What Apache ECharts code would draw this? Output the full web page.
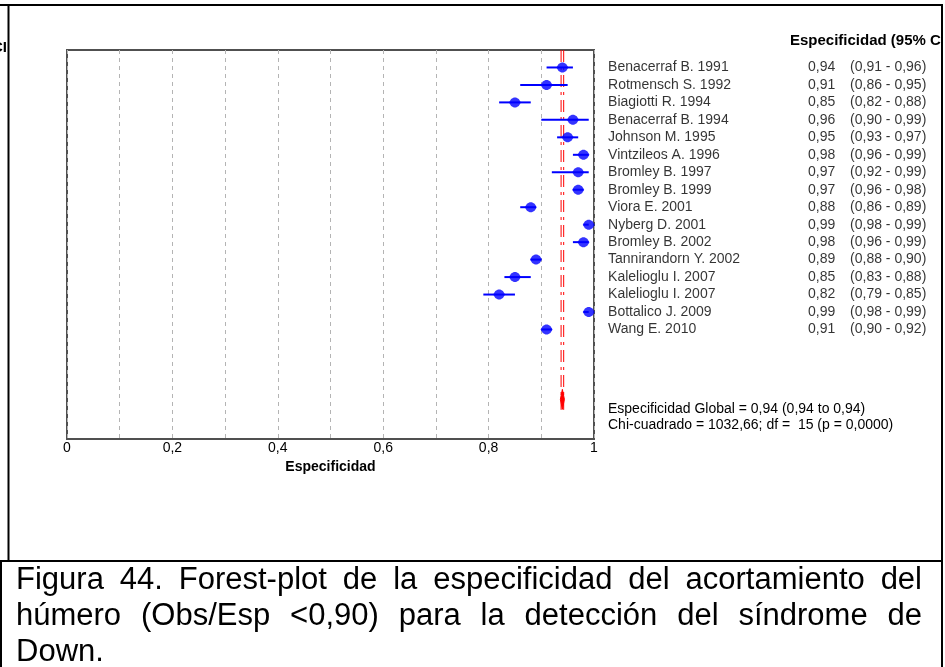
<!DOCTYPE html>
<html>
<head>
<meta charset="utf-8">
<title>Forest-plot especificidad</title>
<script src="https://cdn.jsdelivr.net/npm/echarts@6/dist/echarts.min.js"></script>
<style>
  html, body { margin: 0; padding: 0; background: #ffffff; }
  #chart { width: 945px; height: 667px; }
</style>
</head>
<body>
<div id="chart"></div>
<script>
// Studies and their specificity with 95% confidence interval
const studies = [
  'Benacerraf B. 1991', 'Rotmensch S. 1992', 'Biagiotti R. 1994', 'Benacerraf B. 1994',
  'Johnson M. 1995', 'Vintzileos A. 1996', 'Bromley B. 1997', 'Bromley B. 1999',
  'Viora E. 2001', 'Nyberg D. 2001', 'Bromley B. 2002', 'Tannirandorn Y. 2002',
  'Kalelioglu I. 2007', 'Kalelioglu I. 2007', 'Bottalico J. 2009', 'Wang E. 2010'
];
const specificity = [0.94, 0.91, 0.85, 0.96, 0.95, 0.98, 0.97, 0.97, 0.88, 0.99, 0.98, 0.89, 0.85, 0.82, 0.99, 0.91];
const ciLower     = [0.91, 0.86, 0.82, 0.90, 0.93, 0.96, 0.92, 0.96, 0.86, 0.98, 0.96, 0.88, 0.83, 0.79, 0.98, 0.90];
const ciUpper     = [0.96, 0.95, 0.88, 0.99, 0.97, 0.99, 0.99, 0.98, 0.89, 0.99, 0.99, 0.90, 0.88, 0.85, 0.99, 0.92];

// Pooled estimate
const pooled = [0.94, 0.94, 0.94]; // estimate, lower, upper

// Axis tick labels
const xTicks = [0, 0.2, 0.4, 0.6, 0.8, 1];

// Texts
const headerText = 'Especificidad (95% CI)';
const globalText = 'Especificidad Global = 0,94 (0,94 to 0,94)';
const chiText = 'Chi-cuadrado = 1032,66; df =  15 (p = 0,0000)';
const captionLines = [
  'Figura 44. Forest-plot de la especificidad del acortamiento del',
  'húmero (Obs/Esp <0,90) para la detección del síndrome de',
  'Down.'
];

// Layout
const FONT = '"Liberation Sans", Arial, sans-serif';
const ROW_MAX = 22.27;      // y extent in row units (row 1 at top)
const POOLED_ROW = 20;      // row of pooled diamond
const POOLED_LINE_END = 20.6;
const SEP_Y = 561;          // line between figure and caption
const CAP_LEFT = 16, CAP_RIGHT = 922;
const CAP_Y = [580, 616, 652];
const CAP_FONT_SIZE = 31;

const fmt = v => (v === 0 ? '0' : v === 1 ? '1' : v.toFixed(2).replace('.', ','));
const fmtTick = v => (Math.abs(v) < 1e-9 ? '0' : Math.abs(v - 1) < 1e-9 ? '1' : v.toFixed(1).replace('.', ','));

const chart = echarts.init(document.getElementById('chart'), null, { renderer: 'canvas' });

// Justified caption words
function captionGraphics() {
  const ctx = document.createElement('canvas').getContext('2d');
  const font = CAP_FONT_SIZE + 'px ' + FONT;
  ctx.font = font;
  const out = [];
  captionLines.forEach((line, li) => {
    const words = line.split(' ');
    const last = li === captionLines.length - 1;
    const widths = words.map(w => ctx.measureText(w).width);
    const total = widths.reduce((a, b) => a + b, 0);
    const gap = (last || words.length < 2) ? ctx.measureText(' ').width
      : (CAP_RIGHT - CAP_LEFT - total) / (words.length - 1);
    let x = CAP_LEFT;
    words.forEach((w, wi) => {
      out.push({
        type: 'text', x: x, y: CAP_Y[li], z: 50,
        style: { text: w, font: font, fill: '#000', verticalAlign: 'middle' }
      });
      x += widths[wi] + gap;
    });
  });
  return out;
}

const labelData = studies.map((s, i) => [1, i + 1, s, specificity[i], ciLower[i], ciUpper[i]]);

// point marker: rounded diamond
const markerPath = 'path://M0,5 L2,1.5 L4.5,0 L6.5,0 L9,1.5 L11,5 L9,8.5 L6.5,10 L4.5,10 L2,8.5 Z';

const option = {
  backgroundColor: '#ffffff',
  animation: false,
  grid: {
    left: 67, top: 50, width: 527, height: 389,
    show: true, borderColor: '#505050', borderWidth: 2, backgroundColor: 'transparent'
  },
  xAxis: {
    type: 'value', min: 0, max: 1, interval: 0.1,
    axisLine: { show: false }, axisTick: { show: false },
    axisLabel: {
      margin: 2, color: '#000', fontFamily: FONT, fontSize: 14,
      formatter: v => (xTicks.some(t => Math.abs(t - v) < 1e-9) ? fmtTick(v) : '')
    },
    splitLine: { show: true, lineStyle: { color: '#b4b4b4', width: 1, type: [4, 4] } },
    name: 'Especificidad', nameLocation: 'middle', nameGap: 19,
    nameTextStyle: { color: '#000', fontFamily: FONT, fontSize: 14, fontWeight: 'bold' }
  },
  yAxis: {
    type: 'value', min: 0, max: ROW_MAX, inverse: true, show: false,
    splitLine: { show: false }
  },
  series: [
    {
      // pooled estimate: double dashed reference line and thin diamond
      type: 'custom', z: 2, clip: false,
      data: [[pooled[0], pooled[1], pooled[2]]],
      renderItem(params, api) {
        const x = api.value(0), lo = api.value(1), hi = api.value(2);
        const top = api.coord([x, 0]);
        const bot = api.coord([x, POOLED_LINE_END]);
        const c = api.coord([x, POOLED_ROW]);
        const l = api.coord([lo, POOLED_ROW]);
        const r = api.coord([hi, POOLED_ROW]);
        const hw = 2;
        const dash = { stroke: '#ff0000', lineWidth: 1, lineDash: [12, 5, 3, 5] };
        return {
          type: 'group',
          children: [
            { type: 'line', shape: { x1: top[0] - 1.3, y1: top[1], x2: bot[0] - 1.3, y2: bot[1] }, style: dash },
            { type: 'line', shape: { x1: top[0] + 1.3, y1: top[1], x2: bot[0] + 1.3, y2: bot[1] }, style: dash },
            { type: 'polygon', shape: { points: [[c[0], c[1] - 10], [r[0] + hw, c[1]], [c[0], c[1] + 10], [l[0] - hw, c[1]]] },
              style: { fill: '#ff0000', stroke: '#ff0000', lineWidth: 1 } }
          ]
        };
      }
    },
    {
      // confidence intervals
      type: 'custom', z: 3,
      data: studies.map((s, i) => [ciLower[i], ciUpper[i], i + 1]),
      encode: { x: [0, 1], y: 2 },
      renderItem(params, api) {
        const a = api.coord([api.value(0), api.value(2)]);
        const b = api.coord([api.value(1), api.value(2)]);
        return { type: 'line', shape: { x1: a[0], y1: a[1], x2: b[0], y2: b[1] }, style: { stroke: '#0000ff', lineWidth: 2 } };
      }
    },
    {
      // point estimates
      type: 'scatter', z: 4,
      symbol: markerPath, symbolSize: [12, 10],
      itemStyle: { color: '#0000ff' },
      data: specificity.map((v, i) => [v, i + 1])
    },
    {
      // study names and values to the right of the plot
      type: 'scatter', z: 5, symbolSize: 0.1,
      itemStyle: { color: 'transparent' },
      data: labelData,
      label: {
        show: true, position: 'right', distance: 14,
        color: '#000', fontFamily: FONT, fontSize: 14,
        formatter: p => `{n|${p.data[2]}}{v|${fmt(p.data[3])}}{c|(${fmt(p.data[4])} - ${fmt(p.data[5])})}`,
        rich: {
          n: { width: 200, fontFamily: FONT, fontSize: 14, color: '#000' },
          v: { width: 42, fontFamily: FONT, fontSize: 14, color: '#000' },
          c: { fontFamily: FONT, fontSize: 14, color: '#000' }
        }
      }
    }
  ],
  graphic: [
    // column header and summary statistics
    { type: 'text', x: 790, y: 41, z: 10,
      style: { text: headerText, font: 'bold 15px ' + FONT, fill: '#000', verticalAlign: 'middle' } },
    { type: 'text', x: 7, y: 48, z: 10,
      style: { text: '95% CI', font: 'bold 15px ' + FONT, fill: '#000', align: 'right', verticalAlign: 'middle' } },
    { type: 'text', x: 608, y: 409, z: 10,
      style: { text: globalText, font: '14px ' + FONT, fill: '#000', verticalAlign: 'middle' } },
    { type: 'text', x: 608, y: 425, z: 10,
      style: { text: chiText, font: '14px ' + FONT, fill: '#000', verticalAlign: 'middle' } },
    // mask beyond the right frame
    { type: 'rect', z: 60, shape: { x: 943, y: 0, width: 10, height: 667 }, style: { fill: '#ffffff' } },
    // frame lines
    { type: 'line', z: 70, shape: { x1: 0, y1: 5, x2: 943, y2: 5 }, style: { stroke: '#000', lineWidth: 2 } },
    { type: 'line', z: 70, shape: { x1: 942, y1: 5, x2: 942, y2: 667 }, style: { stroke: '#000', lineWidth: 2 } },
    { type: 'line', z: 70, shape: { x1: 8.5, y1: 5, x2: 8.5, y2: SEP_Y }, style: { stroke: '#000', lineWidth: 2 } },
    { type: 'line', z: 70, shape: { x1: 0, y1: SEP_Y, x2: 943, y2: SEP_Y }, style: { stroke: '#000', lineWidth: 2 } },
    { type: 'line', z: 70, shape: { x1: 1, y1: SEP_Y, x2: 1, y2: 667 }, style: { stroke: '#000', lineWidth: 2 } }
  ].concat(captionGraphics())
};

chart.setOption(option);
</script>
</body>
</html>
